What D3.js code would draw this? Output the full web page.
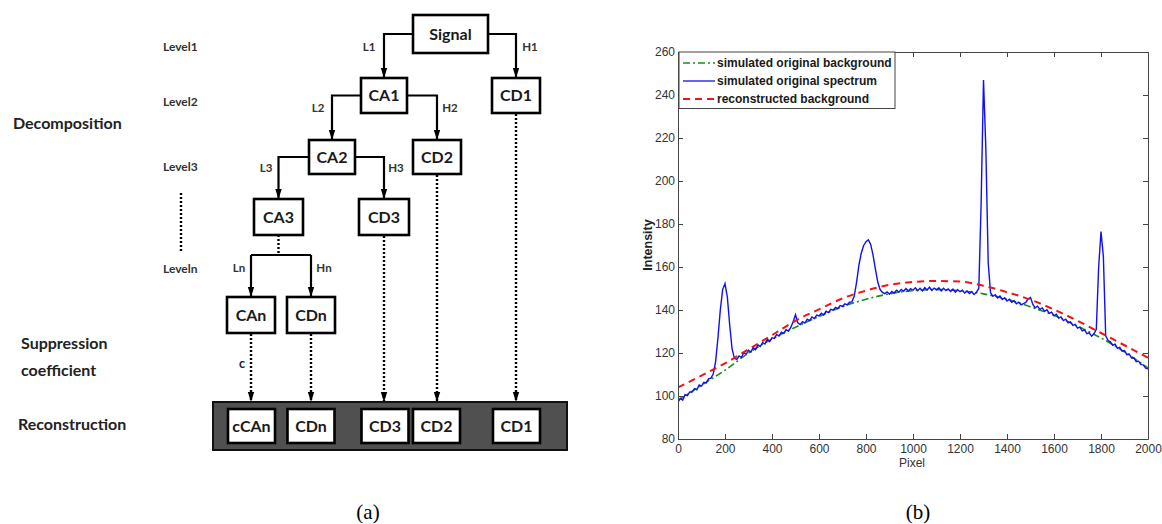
<!DOCTYPE html>
<html>
<head>
<meta charset="utf-8">
<script src="https://cdnjs.cloudflare.com/ajax/libs/d3/7.8.5/d3.min.js"></script>
<style>
  body { margin: 0; background: #fff; }
</style>
</head>
<body>
<div id="figure"></div>
<script>
// ---- (b) spectrum data ----
var bgPixel = [0, 100, 200, 300, 400, 500, 600, 700, 800, 900, 1000,
    1100, 1200, 1300, 1400, 1500, 1600, 1700, 1800, 1900, 2000];
var bgIntensity = [98, 105, 112, 120, 126.5, 132, 137, 141.5, 145, 147.5, 149,
    149.5, 149, 147.5, 145, 141.5, 137.5, 132.5, 127, 120.5, 113];
var recIntensity = [104, 109.5, 115.2, 121.7, 128.3, 135, 140.3, 145.4, 149, 151.7, 153,
    153.5, 153.2, 151.3, 148.3, 144.8, 140.2, 135, 129.3, 123.6, 117.8];

var specPixel = [
    0, 10, 20, 30, 40, 50, 60, 70, 80, 90, 100, 110, 120, 130, 140, 150, 160, 170, 180, 190,
    200, 210, 220, 230, 240, 250, 260, 270, 280, 290, 300, 310, 320, 330, 340, 350, 360, 370, 380, 390,
    400, 410, 420, 430, 440, 450, 460, 470, 480, 490, 500, 510, 520, 530, 540, 550, 560, 570, 580, 590,
    600, 610, 620, 630, 640, 650, 660, 670, 680, 690, 700, 710, 720, 730, 740, 750, 760, 770, 780, 790,
    800, 810, 820, 830, 840, 850, 860, 870, 880, 890, 900, 910, 920, 930, 940, 950, 960, 970, 980, 990,
    1000, 1010, 1020, 1030, 1040, 1050, 1060, 1070, 1080, 1090, 1100, 1110, 1120, 1130, 1140, 1150, 1160, 1170, 1180, 1190,
    1200, 1210, 1220, 1230, 1240, 1250, 1260, 1270, 1280, 1290, 1300, 1310, 1320, 1330, 1340, 1350, 1360, 1370, 1380, 1390,
    1400, 1410, 1420, 1430, 1440, 1450, 1460, 1470, 1480, 1490, 1500, 1510, 1520, 1530, 1540, 1550, 1560, 1570, 1580, 1590,
    1600, 1610, 1620, 1630, 1640, 1650, 1660, 1670, 1680, 1690, 1700, 1710, 1720, 1730, 1740, 1750, 1760, 1770, 1780, 1790,
    1800, 1810, 1820, 1830, 1840, 1850, 1860, 1870, 1880, 1890, 1900, 1910, 1920, 1930, 1940, 1950, 1960, 1970, 1980, 1990,
    2000];
var specIntensity = [
    97.2, 98.9, 98.1, 100.6, 100.2, 101.9, 101.8, 103.4, 102.9, 105.1, 104.6, 106.4, 106.1, 108.0, 108.3, 110.2, 116, 127, 140, 149.5,
    152.3, 146, 133, 122, 117.5, 117.0, 118.6, 117.9, 120.2, 119.4, 121.3, 120.4, 122.5, 121.6, 123.8, 123.0, 124.9, 124.2, 126.4, 125.3,
    127.1, 126.8, 128.6, 127.9, 129.7, 129.1, 130.8, 130.2, 131.9, 134.5, 137.8, 134.0, 133.2, 134.6, 133.9, 135.7, 135.1, 136.8, 136.0, 137.6,
    137.2, 138.5, 137.7, 139.4, 138.8, 140.3, 139.9, 141.2, 140.6, 142.1, 141.7, 142.9, 142.4, 143.6, 143.8, 146.5, 153, 161, 166.5, 170,
    171.8, 172.6, 170.5, 165.5, 159, 153, 149.5, 148.2, 147.6, 148.4, 147.3, 148.6, 147.9, 149.2, 148.3, 149.6, 148.7, 150.0, 148.8, 149.9,
    149.2, 150.3, 149.0, 150.1, 148.9, 150.4, 149.3, 150.6, 149.1, 150.2, 149.4, 150.3, 148.9, 150.1, 149.0, 149.8, 148.6, 149.7, 148.3, 149.4,
    148.5, 149.2, 147.9, 148.8, 147.6, 148.5, 147.2, 148.3, 150, 190, 247, 215, 162, 148, 146.4, 147.1, 145.6, 146.5, 144.9, 145.7,
    144.2, 145.0, 143.6, 144.3, 142.9, 143.6, 142.4, 143.0, 143.5, 145.2, 145.8, 142.6, 141.0, 141.8, 140.3, 141.0, 139.4, 140.1, 138.4, 139.0,
    137.3, 138.0, 136.2, 136.8, 135.1, 135.7, 134.0, 134.5, 132.8, 133.3, 131.6, 132.0, 130.3, 130.8, 129.0, 129.4, 127.8, 128.9, 131, 160,
    176.5, 165, 128, 125.8, 125.2, 123.6, 124.1, 122.2, 122.6, 120.8, 121.1, 119.2, 119.5, 117.7, 117.8, 116.0, 116.2, 114.6, 114.5, 112.9,
    112.6];

var xTicks = [0, 200, 400, 600, 800, 1000, 1200, 1400, 1600, 1800, 2000];
var yTicks = [80, 100, 120, 140, 160, 180, 200, 220, 240, 260];
var legendLabels = ["simulated original background", "simulated original spectrum", "reconstructed background"];

// ---- (a) decomposition diagram labels ----
var levelLabels = ["Level1", "Level2", "Level3", "Leveln"];
var stageLabels = ["Decomposition", "Suppression", "coefficient", "Reconstruction"];
var treeBoxes = ["Signal", "CA1", "CD1", "CA2", "CD2", "CA3", "CD3", "CAn", "CDn"];
var reconBoxes = ["cCAn", "CDn", "CD3", "CD2", "CD1"];
var branchLabels = ["L1", "H1", "L2", "H2", "L3", "H3", "Ln", "Hn"];

var svg = d3.select("#figure").append("svg")
    .attr("width", 1162)
    .attr("height", 524)
    .style("font-family", "Lato, 'Open Sans', sans-serif");

var defs = svg.append("defs");
defs.append("marker")
    .attr("id", "arrow")
    .attr("markerUnits", "userSpaceOnUse")
    .attr("viewBox", "0 -4 10 8")
    .attr("refX", 10).attr("refY", 0)
    .attr("markerWidth", 10).attr("markerHeight", 8)
    .attr("orient", "auto")
    .append("path").attr("d", "M0,-3.2L10,0L0,3.2Z").attr("fill", "#000");

// ================= (a) diagram =================
var diag = svg.append("g");

// box placement (centre x, centre y, width, height)
var treeLayout = {
    "Signal": [450.5, 34, 75, 38],
    "CA1": [384, 95.5, 46, 35], "CD1": [516, 95.5, 48, 35],
    "CA2": [332, 157, 46, 34], "CD2": [437, 157, 48, 34],
    "CA3": [278.5, 217, 49, 36], "CD3": [384, 217, 50, 36],
    "CAn": [251, 315, 48, 36], "CDn": [311, 315, 48, 36]
};
var reconCx = [251.5, 311, 385, 436.5, 516.5];

// elbow connectors: [from box, to box, side]
var edges = [["Signal", "CA1", -1], ["Signal", "CD1", 1], ["CA1", "CA2", -1],
    ["CA1", "CD2", 1], ["CA2", "CA3", -1], ["CA2", "CD3", 1]];
var branchPos = [[369, 47], [530, 47], [318, 108], [450, 108], [266, 168], [396, 168], [239, 268], [324, 268]];

function solid(path) {
    return diag.append("path").attr("d", path)
        .attr("fill", "none").attr("stroke", "#000").attr("stroke-width", 2.2);
}
function dotted(x, y1, y2, arrow) {
    var p = diag.append("line")
        .attr("x1", x).attr("x2", x).attr("y1", y1).attr("y2", y2)
        .attr("stroke", "#000").attr("stroke-width", 2.4)
        .attr("stroke-dasharray", "2,2");
    if (arrow) p.attr("marker-end", "url(#arrow)");
    return p;
}

edges.forEach(function (e) {
    var a = treeLayout[e[0]], b = treeLayout[e[1]];
    var sx = a[0] + e[2] * a[2] / 2;
    solid("M" + sx + "," + a[1] + "H" + b[0] + "V" + (b[1] - b[3] / 2))
        .attr("marker-end", "url(#arrow)");
});

// CA3 -> level n split
var ca3 = treeLayout["CA3"], can = treeLayout["CAn"], cdn = treeLayout["CDn"];
dotted(ca3[0], ca3[1] + ca3[3] / 2, 255, false);
solid("M" + can[0] + ",255H" + cdn[0]);
solid("M" + can[0] + ",255V" + (can[1] - can[3] / 2)).attr("marker-end", "url(#arrow)");
solid("M" + cdn[0] + ",255V" + (cdn[1] - cdn[3] / 2)).attr("marker-end", "url(#arrow)");

// dotted arrows down into reconstruction bar
["CAn", "CDn", "CD3", "CD2", "CD1"].forEach(function (k) {
    var b = treeLayout[k];
    dotted(b[0], b[1] + b[3] / 2 + 1, 402, true);
});

// level dotted marker
dotted(181, 193, 252, false);

// reconstruction bar
diag.append("rect")
    .attr("x", 213).attr("y", 402).attr("width", 354).attr("height", 48)
    .attr("fill", "#505050").attr("stroke", "#111").attr("stroke-width", 2);

function drawBox(label, cx, cy, w, h) {
    diag.append("rect")
        .attr("x", cx - w / 2).attr("y", cy - h / 2)
        .attr("width", w).attr("height", h)
        .attr("fill", "#fff").attr("stroke", "#000").attr("stroke-width", 2.6);
    diag.append("text")
        .attr("x", cx).attr("y", cy)
        .attr("dy", "0.36em")
        .attr("text-anchor", "middle")
        .style("font-size", "16px").style("font-weight", "bold").style("fill", "#1a1a1a")
        .text(label);
}

treeBoxes.forEach(function (k) {
    var b = treeLayout[k];
    drawBox(k, b[0], b[1], b[2], b[3]);
});
reconBoxes.forEach(function (k, i) {
    drawBox(k, reconCx[i], 426, 47, 34);
});

branchLabels.forEach(function (t, i) {
    diag.append("text")
        .attr("x", branchPos[i][0]).attr("y", branchPos[i][1])
        .attr("dy", "0.35em").attr("text-anchor", "middle")
        .style("font-size", "11.5px").style("font-weight", "bold").style("fill", "#333")
        .text(t);
});
diag.append("text")
    .attr("x", 242).attr("y", 364).attr("dy", "0.35em").attr("text-anchor", "middle")
    .style("font-size", "12.5px").style("font-weight", "bold").style("fill", "#222")
    .text("c");

var levelY = [47, 102, 167, 269];
levelLabels.forEach(function (t, i) {
    diag.append("text")
        .attr("x", 163).attr("y", levelY[i]).attr("dy", "0.35em")
        .style("font-size", "12px").style("font-weight", "bold").style("fill", "#333")
        .text(t);
});

var stagePos = [[13, 123], [21, 343], [21, 370], [18, 424]];
stageLabels.forEach(function (t, i) {
    diag.append("text")
        .attr("x", stagePos[i][0]).attr("y", stagePos[i][1]).attr("dy", "0.35em")
        .style("font-size", "16px").style("font-weight", "bold").style("fill", "#222")
        .text(t);
});

// ================= (b) spectrum chart =================
var x = d3.scaleLinear().domain([0, 2000]).range([678, 1148]);
var y = d3.scaleLinear().domain([80, 260]).range([439, 52]);

var chart = svg.append("g").style("font-family", "'Liberation Sans Narrow', 'Arial Narrow', 'Liberation Sans', sans-serif");

defs.append("clipPath").attr("id", "plotclip")
    .append("rect").attr("x", 678).attr("y", 52).attr("width", 470).attr("height", 387);

var line = d3.line()
    .x(function (d) { return x(d[0]); })
    .y(function (d) { return y(d[1]); });

var plot = chart.append("g").attr("clip-path", "url(#plotclip)");

plot.append("path")
    .datum(bgPixel.map(function (p, i) { return [p, bgIntensity[i]]; }))
    .attr("d", line.curve(d3.curveMonotoneX))
    .attr("fill", "none").attr("stroke", "#1a8f1a").attr("stroke-width", 1.6)
    .attr("stroke-dasharray", "7,3,2,3");

plot.append("path")
    .datum(specPixel.map(function (p, i) { return [p, specIntensity[i]]; }))
    .attr("d", line.curve(d3.curveLinear))
    .attr("fill", "none").attr("stroke", "#1010f0").attr("stroke-width", 1.4);

plot.append("path")
    .datum(bgPixel.map(function (p, i) { return [p, recIntensity[i]]; }))
    .attr("d", line.curve(d3.curveMonotoneX))
    .attr("fill", "none").attr("stroke", "#ee1515").attr("stroke-width", 2)
    .attr("stroke-dasharray", "7,5");

// axes with inward ticks, MATLAB style box
var axisColor = "#444";
var fmt = d3.format("d");
function styleAxis(g) {
    g.selectAll("path, line").attr("stroke", axisColor);
    g.selectAll("text").style("font-size", "12px").attr("fill", "#333");
}
chart.append("g").attr("transform", "translate(0,439)")
    .call(d3.axisBottom(x).tickValues(xTicks).tickFormat(fmt).tickSizeInner(-5).tickSizeOuter(0).tickPadding(5))
    .call(styleAxis);
chart.append("g").attr("transform", "translate(0,52)")
    .call(d3.axisTop(x).tickValues(xTicks).tickSizeInner(-5).tickSizeOuter(0).tickFormat(""))
    .call(styleAxis);
chart.append("g").attr("transform", "translate(678,0)")
    .call(d3.axisLeft(y).tickValues(yTicks).tickFormat(fmt).tickSizeInner(-5).tickSizeOuter(0).tickPadding(3))
    .call(styleAxis);
chart.append("g").attr("transform", "translate(1148,0)")
    .call(d3.axisRight(y).tickValues(yTicks).tickSizeInner(-5).tickSizeOuter(0).tickFormat(""))
    .call(styleAxis);

chart.append("text")
    .attr("transform", "translate(652,245) rotate(-90)")
    .attr("text-anchor", "middle")
    .style("font-family", "'Liberation Sans', Arial, sans-serif")
    .style("font-size", "12.5px").style("font-weight", "bold").style("fill", "#222")
    .text("Intensity");
chart.append("text")
    .attr("x", 912).attr("y", 467).attr("text-anchor", "middle")
    .style("font-size", "12px").style("fill", "#333")
    .text("Pixel");

// legend
var legend = chart.append("g");
legend.append("rect")
    .attr("x", 679).attr("y", 52).attr("width", 216).attr("height", 56.5)
    .attr("fill", "#fff").attr("stroke", axisColor).attr("stroke-width", 1);
var legendStyle = [
    { color: "#1a8f1a", dash: "7,3,2,3", width: 1.6 },
    { color: "#1010f0", dash: null, width: 1.3 },
    { color: "#ee1515", dash: "7,5", width: 2 }
];
legendLabels.forEach(function (t, i) {
    var ly = 63 + i * 18;
    legend.append("line")
        .attr("x1", 683).attr("x2", 715).attr("y1", ly).attr("y2", ly)
        .attr("stroke", legendStyle[i].color).attr("stroke-width", legendStyle[i].width)
        .attr("stroke-dasharray", legendStyle[i].dash);
    legend.append("text")
        .attr("x", 717).attr("y", ly).attr("dy", "0.35em")
        .style("font-family", "'Liberation Sans', Arial, sans-serif")
        .style("font-size", "12px").style("font-weight", "bold").style("fill", "#1a1a1a")
        .text(t);
});

// panel captions
svg.append("text").attr("x", 368).attr("y", 519).attr("text-anchor", "middle")
    .style("font-family", "'Liberation Serif', 'Times New Roman', serif").style("font-size", "21px")
    .text("(a)");
svg.append("text").attr("x", 918).attr("y", 519).attr("text-anchor", "middle")
    .style("font-family", "'Liberation Serif', 'Times New Roman', serif").style("font-size", "21px")
    .text("(b)");
</script>
</body>
</html>
